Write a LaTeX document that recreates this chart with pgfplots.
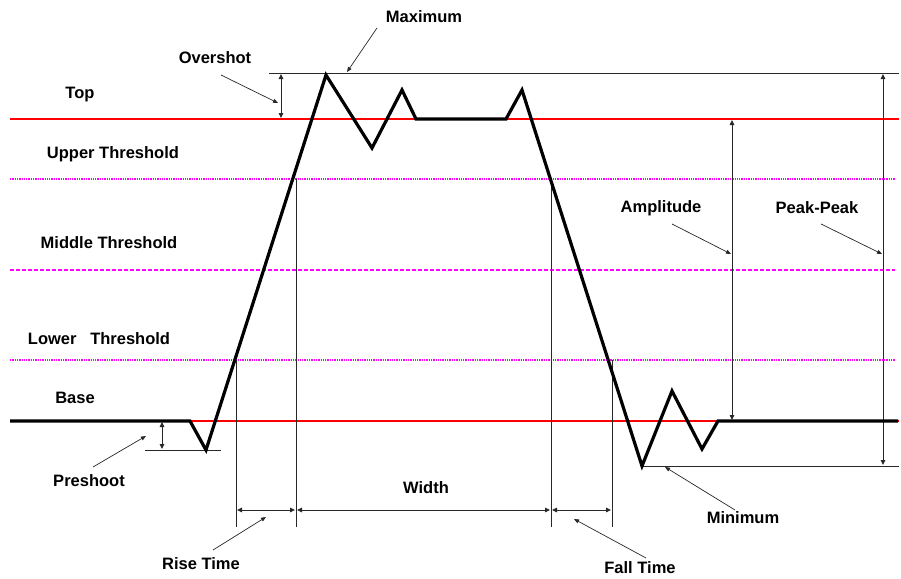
\documentclass[border=0pt]{standalone}
\usepackage{fontspec}
\setmainfont{Liberation Sans}
\usepackage{pgfplots}
\pgfplotsset{compat=1.18}
\usetikzlibrary{arrows.meta}
\definecolor{mag}{RGB}{255,0,255}
\definecolor{redl}{RGB}{255,0,0}
\definecolor{dk}{RGB}{40,40,40}
\tikzset{
  lbl/.style={font=\bfseries\fontsize{16.5}{19}\selectfont, inner sep=0pt},
  thin line/.style={dk, line width=1pt},
  arr/.style={dk, line width=0.9pt, {Triangle[length=5pt,width=4.5pt]}-{Triangle[length=5pt,width=4.5pt]}},
  lead/.style={dk, line width=0.7pt, -{Triangle[length=5pt,width=4pt]}},
}
\begin{document}
\begin{tikzpicture}
\begin{axis}[
  scale only axis, width=901pt, height=578pt,
  xmin=0, xmax=901, ymin=0, ymax=578, y dir=reverse,
  hide axis, clip=false,
  every axis plot/.append style={mark=none},
]
\fill[white] (rel axis cs:0,0) rectangle (rel axis cs:1,1);
% threshold lines
\addplot[mag, line width=1.3pt, dash pattern=on 1.3pt off 1pt] coordinates {(10,179) (895,179)};
\addplot[mag, line width=1.3pt, dash pattern=on 4pt off 2pt] coordinates {(10,270) (895,270)};
\addplot[mag, line width=1.3pt, dash pattern=on 1.3pt off 1pt] coordinates {(10,360) (895,360)};
% top and base
\addplot[redl, line width=1.2pt] coordinates {(10,119) (899,119)};
\addplot[redl, line width=1.2pt] coordinates {(10,421) (899,421)};
% maximum, minimum, preshoot lines
\addplot[thin line] coordinates {(269,73) (899,73)};
\addplot[thin line] coordinates {(642,466) (899,466)};
\addplot[thin line] coordinates {(145,450) (221,450)};
% verticals
\addplot[thin line] coordinates {(236,360) (236,527)};
\addplot[thin line] coordinates {(296,179) (296,527)};
\addplot[thin line] coordinates {(551,179) (551,527)};
\addplot[thin line] coordinates {(612,360) (612,527)};
% dimension arrows
\addplot[arr] coordinates {(237,510) (295,510)};
\addplot[arr] coordinates {(297,510) (550,510)};
\addplot[arr] coordinates {(552,510) (611,510)};
\addplot[arr] coordinates {(281,74) (281,118)};
\addplot[arr] coordinates {(162,422) (162,449)};
\addplot[arr] coordinates {(732,120) (732,420)};
\addplot[arr] coordinates {(883,74) (883,465)};
% leaders
\addplot[lead] coordinates {(377,28) (347,72)};
\addplot[lead] coordinates {(221,75) (278,103)};
\addplot[lead] coordinates {(93,467) (146,436)};
\addplot[lead] coordinates {(213,550) (266,517)};
\addplot[lead] coordinates {(646,558) (574,519)};
\addplot[lead] coordinates {(735,510) (665,467)};
\addplot[lead] coordinates {(672,224) (731,254)};
\addplot[lead] coordinates {(821,224) (882,254)};
% waveform
\addplot[black, line width=3.2pt, line join=miter, miter limit=3] coordinates {
 (10,421) (190,421) (206,450) (326,75) (372,148) (402,90) (416,119)
 (506,119) (522,90) (642,466) (672,391) (702,449) (718,421) (898,421)};
% labels
\node[lbl] at (axis cs:424,17) {Maximum};
\node[lbl] at (axis cs:215,58) {Overshot};
\node[lbl] at (axis cs:80,95) {Top};
\node[lbl] at (axis cs:113,154) {Upper Threshold};
\node[lbl] at (axis cs:109,243) {Middle Threshold};
\node[lbl] at (axis cs:99,339) {Lower\ \ \ Threshold};
\node[lbl] at (axis cs:75,398) {Base};
\node[lbl] at (axis cs:89,481) {Preshoot};
\node[lbl] at (axis cs:426,488) {Width};
\node[lbl] at (axis cs:201,564) {Rise Time};
\node[lbl] at (axis cs:640,568) {Fall Time};
\node[lbl] at (axis cs:743,518) {Minimum};
\node[lbl] at (axis cs:661,208) {Amplitude};
\node[lbl] at (axis cs:817,208) {Peak-Peak};
\end{axis}
\end{tikzpicture}
\end{document}
